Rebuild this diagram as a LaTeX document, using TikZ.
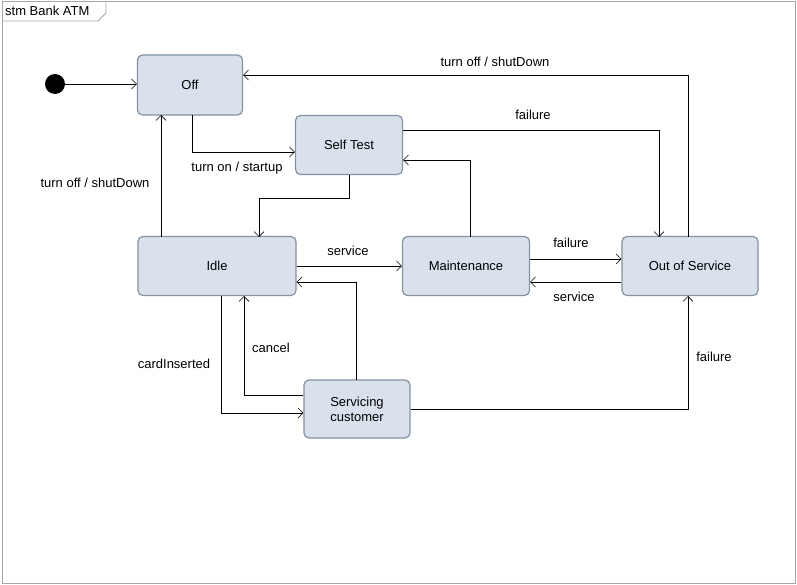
\documentclass[tikz,border=0pt]{standalone}
\usepackage{fontspec}
\setmainfont{Liberation Sans}
\usetikzlibrary{arrows.meta}
\definecolor{statefill}{HTML}{D9E2EC}
\definecolor{stateline}{HTML}{8391A0}

\begin{document}
\begin{tikzpicture}[x=1pt,y=-1pt,
    every node/.style={font=\fontsize{13}{15}\selectfont},
    state/.style={rectangle,rounded corners=5pt,fill=statefill,draw=stateline,line width=1.2pt,align=center},
    trans/.style={-{Straight Barb[length=5pt,width=10pt]},line width=0.6pt},
    lbl/.style={inner sep=1pt}
]
\useasboundingbox (0,0) rectangle (797,585);

% frame
\draw [black!35,line width=1pt] (2,2) rectangle (795,583);
\draw [black!35,line width=0.8pt] (2,21) -- (98,21) -- (106,13) -- (106,2);
\node [anchor=west,inner sep=1pt] (title) at (4,11) {stm Bank ATM};

% states
\fill (55,84) circle (10) coordinate (init);
\node [state,minimum width=105,minimum height=60] (off) at (190,85) {Off};
\node [state,minimum width=107,minimum height=59] (test) at (349,145) {Self Test};
\node [state,minimum width=158,minimum height=59] (idle) at (217,266) {Idle};
\node [state,minimum width=127,minimum height=59] (maint) at (466,266) {Maintenance};
\node [state,minimum width=136,minimum height=59] (oos) at (690,266) {Out of Service};
\node [state,minimum width=106,minimum height=58] (serv) at (357,409) {Servicing\\customer};

% transitions
\draw [trans] (65,84) -- (off.west |- 0,84);
\draw [trans] (192,115) |- (test.west |- 0,152);
\node [lbl] (l1) at (237,168) {turn on / startup};
\draw [trans] (349,175) -- (349,198) -| (259,237);
\draw [trans] (161,237) -- (161,115);
\node [lbl] (l2) at (95,183) {turn off / shutDown};
\draw [trans] (688,237) |- (off.east |- 0,75);
\node [lbl] (l3) at (495,62) {turn off / shutDown};
\draw [trans] (test.east |- 0,130) -| (659,237);
\node [lbl] (l4) at (533,115) {failure};
\draw [trans] (idle.east) -- (maint.west);
\node [lbl] (l5) at (348,251) {service};
\draw [trans] (470,237) |- (test.east |- 0,160);
\draw [trans] (maint.east |- 0,259) -- (oos.west |- 0,259);
\node [lbl] (l6) at (571,243) {failure};
\draw [trans] (oos.west |- 0,282) -- (maint.east |- 0,282);
\node [lbl] (l7) at (574,297) {service};
\draw [trans] (221,296) |- (serv.west |- 0,413);
\node [lbl] (l8) at (174,364) {cardInserted};
\draw [trans] (serv.west |- 0,395) -| (244,296);
\node [lbl] (l9) at (271,348) {cancel};
\draw [trans] (356,380) |- (idle.east |- 0,282);
\draw [trans] (serv.east) -| (688,296);
\node [lbl] (l10) at (714,357) {failure};
\end{tikzpicture}
\end{document}
